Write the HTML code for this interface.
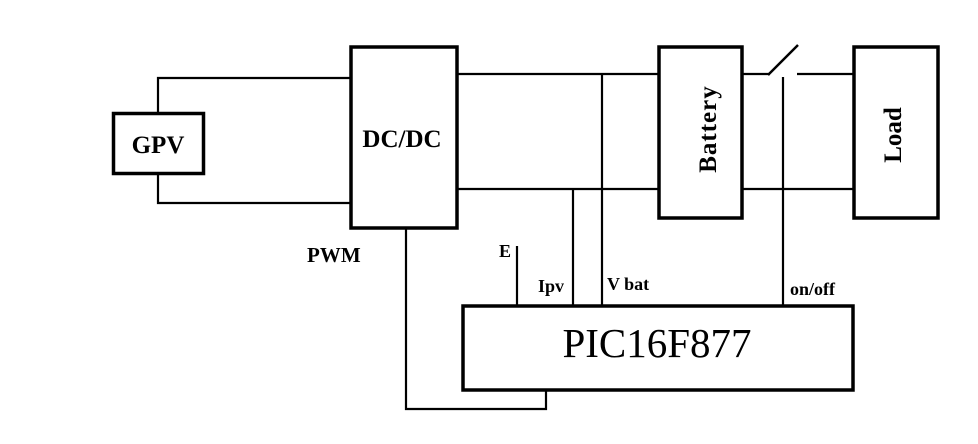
<!DOCTYPE html>
<html><head><meta charset="utf-8"><style>
html,body{margin:0;padding:0;background:#fff;}
svg{display:block;}
text{font-family:"Liberation Serif",serif;fill:#000;}
</style></head><body>
<svg width="978" height="444" viewBox="0 0 978 444" xmlns="http://www.w3.org/2000/svg">
<g fill="none" stroke="#000">
<!-- boxes -->
<rect x="113.5" y="113.5" width="90" height="60" stroke-width="3.5"/>
<rect x="351" y="47" width="106" height="181" stroke-width="3.5"/>
<rect x="659" y="47" width="83" height="171" stroke-width="3.5"/>
<rect x="854" y="47" width="84" height="171" stroke-width="3.5"/>
<rect x="463" y="306" width="390" height="84" stroke-width="3.5"/>
<!-- GPV wires -->
<polyline points="158,112 158,78 350,78" stroke-width="2.2"/>
<polyline points="158,175 158,203 350,203" stroke-width="2.2"/>
<!-- DC to battery -->
<line x1="458" y1="74" x2="658" y2="74" stroke-width="2.2"/>
<line x1="458" y1="189" x2="658" y2="189" stroke-width="2.2"/>
<!-- battery to load -->
<line x1="742" y1="74" x2="770" y2="74" stroke-width="2.2"/>
<line x1="768" y1="75" x2="798" y2="45" stroke-width="2.5"/>
<line x1="797" y1="74" x2="853" y2="74" stroke-width="2.2"/>
<line x1="742" y1="189" x2="853" y2="189" stroke-width="2.2"/>
<line x1="783" y1="77" x2="783" y2="305" stroke-width="2.2"/>
<!-- sensing -->
<line x1="573" y1="189" x2="573" y2="305" stroke-width="2.2"/>
<line x1="602" y1="74" x2="602" y2="305" stroke-width="2.2"/>
<line x1="517" y1="246" x2="517" y2="305" stroke-width="2.2"/>
<!-- PWM -->
<polyline points="406,229 406,409 546,409 546,391" stroke-width="2.2"/>
</g>
<text x="158" y="153" font-size="25" font-weight="bold" text-anchor="middle">GPV</text>
<text x="402" y="147" font-size="25" font-weight="bold" text-anchor="middle">DC/DC</text>
<text x="307" y="262" font-size="21" font-weight="bold">PWM</text>
<text x="499" y="257" font-size="18" font-weight="bold">E</text>
<text x="538" y="292" font-size="18" font-weight="bold">Ipv</text>
<text x="607" y="290" font-size="18" font-weight="bold">V bat</text>
<text x="790" y="295" font-size="18" font-weight="bold">on/off</text>
<text x="657" y="357" font-size="41" text-anchor="middle">PIC16F877</text>
<text transform="translate(716,129) rotate(-90)" font-size="25" font-weight="bold" text-anchor="middle" letter-spacing="1">Battery</text>
<text transform="translate(901,135) rotate(-90)" font-size="25" font-weight="bold" text-anchor="middle">Load</text>
</svg>
</body></html>
